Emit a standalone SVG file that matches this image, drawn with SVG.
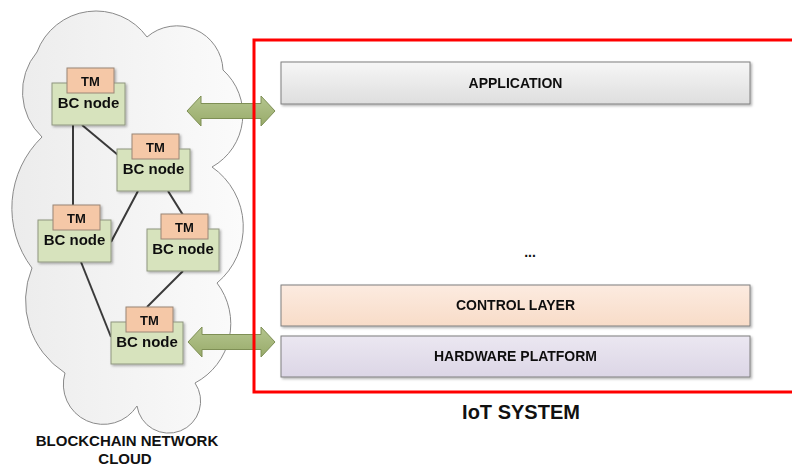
<svg xmlns="http://www.w3.org/2000/svg" width="792" height="468" viewBox="0 0 792 468">
<defs>
<linearGradient id="cloudG" x1="0" y1="0" x2="1" y2="0">
<stop offset="0" stop-color="#ececec"/><stop offset="1" stop-color="#fbfbfb"/>
</linearGradient>
<linearGradient id="appG" x1="0" y1="0" x2="0" y2="1">
<stop offset="0" stop-color="#f6f6f6"/><stop offset="1" stop-color="#dedede"/>
</linearGradient>
<linearGradient id="ctlG" x1="0" y1="0" x2="0" y2="1">
<stop offset="0" stop-color="#fcebe0"/><stop offset="1" stop-color="#f8dcc8"/>
</linearGradient>
<linearGradient id="hwG" x1="0" y1="0" x2="0" y2="1">
<stop offset="0" stop-color="#ebe7f1"/><stop offset="1" stop-color="#dcd6e6"/>
</linearGradient>
<linearGradient id="arrG" x1="0" y1="0" x2="0" y2="1">
<stop offset="0" stop-color="#b5c58f"/><stop offset="1" stop-color="#98ab6a"/>
</linearGradient>
<filter id="sh" x="-10%" y="-10%" width="130%" height="140%">
<feDropShadow dx="1.5" dy="1.5" stdDeviation="1" flood-color="#000" flood-opacity="0.3"/>
</filter>
<style>
.bc{fill:#d7e3bd;stroke:#8f9680;stroke-width:1}
.tm{fill:#f5c8a7;stroke:#9a8676;stroke-width:1}
.t{font-family:"Liberation Sans",Arial,sans-serif;font-weight:bold;fill:#111;text-anchor:middle}
.bct{font-size:15px}
.tmt{font-size:13px}
.lay{stroke:#7f7f7f;stroke-width:1}
.lt{font-size:14px}
.con{stroke:#3a3a3a;stroke-width:2;fill:none}
.arr{fill:url(#arrG);stroke:#7e8f55;stroke-width:1}
</style>
</defs>
<rect width="792" height="468" fill="#fff"/>
<g id="cloud">
<path d="M37,52 A63,63 0 0 1 147,37 A46,46 0 0 1 223,70 A60,60 0 0 1 212,167 A73,73 0 0 1 217,283 A67,67 0 0 1 195,383 A32,32 0 1 1 137,406 A40,40 0 0 1 65,373 A86,86 0 0 1 32,268 A99,99 0 0 1 42,137 A62,62 0 0 1 37,52 Z" fill="url(#cloudG)" stroke="#8a8a8a" stroke-width="1"/>
<text class="t" x="127" y="446" font-size="15">BLOCKCHAIN NETWORK</text>
<text class="t" x="125" y="464" font-size="15">CLOUD</text>
</g>
<g id="connectors">
<line class="con" x1="73" y1="125" x2="73" y2="205"/>
<line class="con" x1="82" y1="125" x2="118" y2="155"/>
<line class="con" x1="138" y1="191" x2="111" y2="242"/>
<line class="con" x1="168" y1="191" x2="183" y2="215"/>
<line class="con" x1="81" y1="262" x2="111" y2="337"/>
<line class="con" x1="183" y1="271" x2="147" y2="307"/>
</g>
<g id="node1" filter="url(#sh)">
<rect class="bc" x="52" y="83" width="73" height="42"/>
<rect class="tm" x="67" y="68" width="47" height="25"/>
<text class="t tmt" x="90.5" y="85.5">TM</text>
<text class="t bct" x="88.5" y="108">BC node</text>
</g>
<g id="node2" filter="url(#sh)">
<rect class="bc" x="117" y="149" width="73" height="42"/>
<rect class="tm" x="132" y="134" width="47" height="25"/>
<text class="t tmt" x="155.5" y="151.5">TM</text>
<text class="t bct" x="153.5" y="174">BC node</text>
</g>
<g id="node3" filter="url(#sh)">
<rect class="bc" x="38" y="220" width="73" height="42"/>
<rect class="tm" x="53" y="205" width="47" height="25"/>
<text class="t tmt" x="76.5" y="222.5">TM</text>
<text class="t bct" x="74.5" y="245">BC node</text>
</g>
<g id="node4" filter="url(#sh)">
<rect class="bc" x="147" y="229" width="72" height="42"/>
<rect class="tm" x="161" y="214" width="47" height="25"/>
<text class="t tmt" x="184.5" y="231.5">TM</text>
<text class="t bct" x="183" y="254">BC node</text>
</g>
<g id="node5" filter="url(#sh)">
<rect class="bc" x="111" y="322" width="72" height="42"/>
<rect class="tm" x="126" y="307" width="47" height="25"/>
<text class="t tmt" x="149.5" y="324.5">TM</text>
<text class="t bct" x="147" y="347">BC node</text>
</g>
<g id="arrows">
<path class="arr" d="M187,111 L201,96 L201,103.5 L261,103.5 L261,96 L275,111 L261,126 L261,118.5 L201,118.5 L201,126 Z"/>
<path class="arr" d="M188,342 L202,327 L202,334.5 L261,334.5 L261,327 L275,342 L261,357 L261,349.5 L202,349.5 L202,357 Z"/>
</g>
<g id="iot">
<rect x="254" y="40" width="560" height="352" fill="none" stroke="#ff0000" stroke-width="3"/>
<text class="t" x="521" y="419" font-size="20">IoT SYSTEM</text>
</g>
<g id="application" filter="url(#sh)">
<rect class="lay" x="281" y="62" width="469" height="42" fill="url(#appG)"/>
<text class="t lt" x="515.5" y="88">APPLICATION</text>
</g>
<g id="dots">
<text class="t lt" x="530" y="257">...</text>
</g>
<g id="control" filter="url(#sh)">
<rect class="lay" x="281" y="285" width="469" height="41" fill="url(#ctlG)"/>
<text class="t lt" x="515.5" y="310">CONTROL LAYER</text>
</g>
<g id="hardware" filter="url(#sh)">
<rect class="lay" x="281" y="336" width="469" height="41" fill="url(#hwG)"/>
<text class="t lt" x="515.5" y="361">HARDWARE PLATFORM</text>
</g>
</svg>
